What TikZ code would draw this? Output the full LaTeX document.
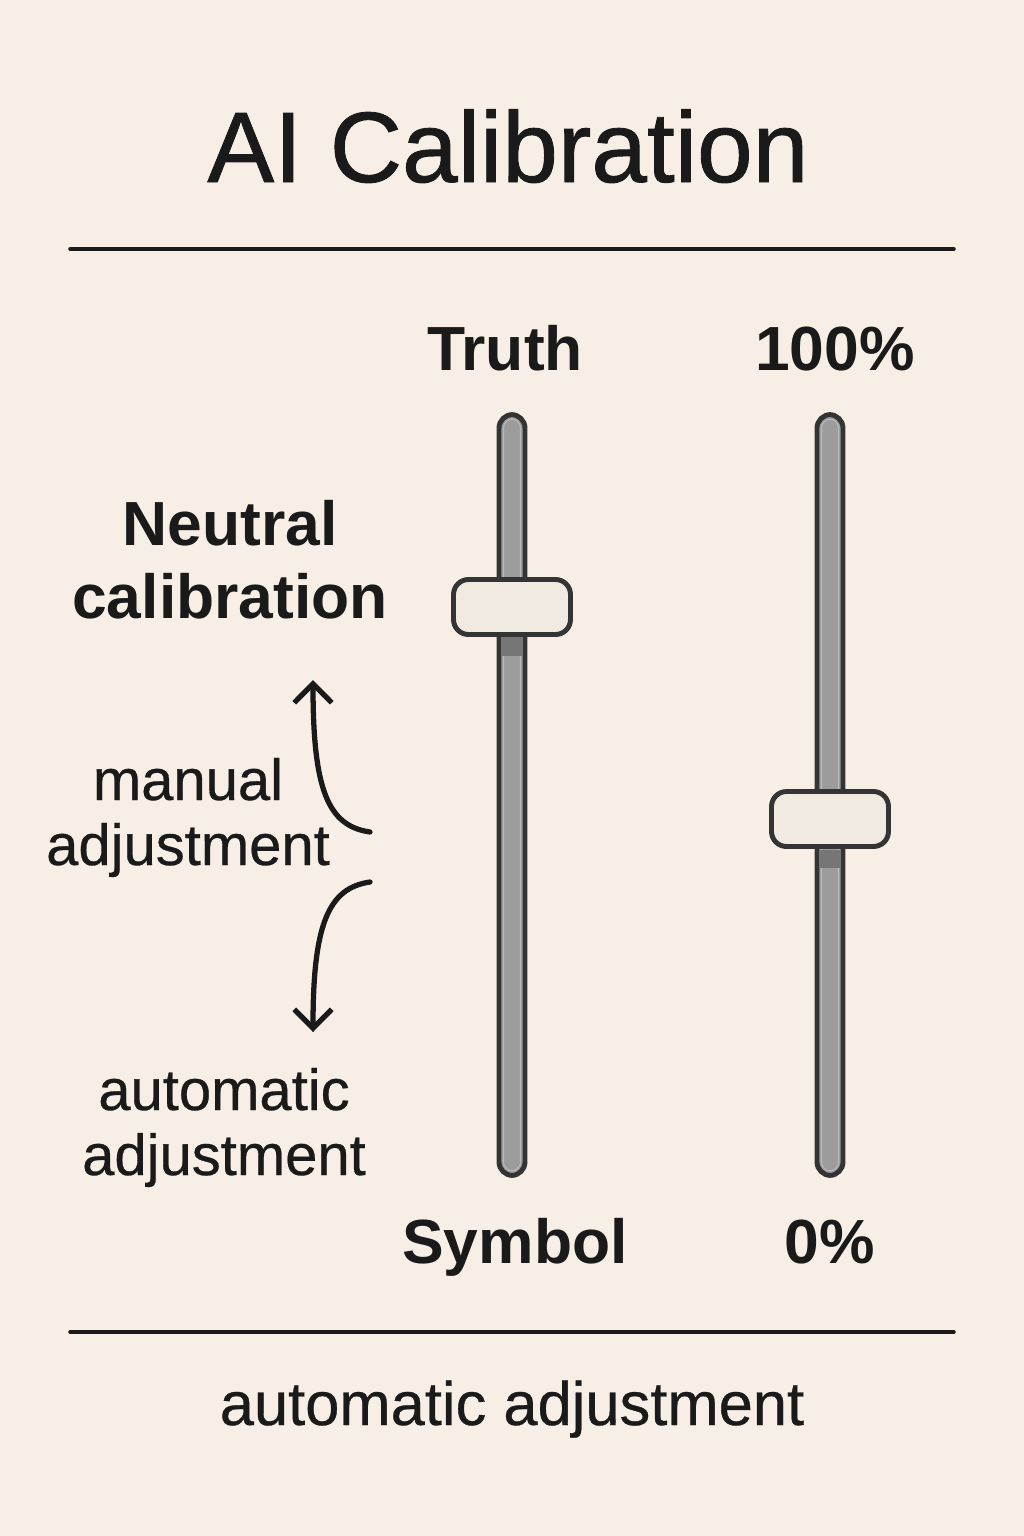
\documentclass[tikz,border=0pt]{standalone}
\usepackage{fontspec}
\setmainfont{Liberation Sans}
\newfontfamily\titlefont[FakeBold=0.9]{Liberation Sans}
\newfontfamily\mediumfont[FakeBold=0.5]{Liberation Sans}
\usetikzlibrary{arrows.meta}
\definecolor{paper}{RGB}{247,239,229}
\definecolor{ink}{RGB}{26,26,26}
\definecolor{rail}{RGB}{156,156,156}
\definecolor{railedge}{RGB}{52,52,52}
\definecolor{railshade}{RGB}{118,118,118}
\definecolor{knobfill}{RGB}{240,234,224}
\tikzset{
  track/.style={draw=railedge, fill=rail, line width=2.8pt, rounded corners=2.7mm,
    minimum width=5.2mm, minimum height=152.2mm, inner sep=0pt},
  shine/.style={draw=gray!55, line width=0.6pt, rounded corners=1.8mm,
    minimum width=3.4mm, minimum height=150.4mm, inner sep=0pt},
  knob/.style={draw=railedge, fill=knobfill, line width=2.8pt, rounded corners=3mm,
    minimum width=23.4mm, minimum height=11mm, inner sep=0pt},
  heading/.style={text=ink, anchor=base, font=\titlefont\fontsize{57}{68}\selectfont},
  bigword/.style={text=ink, anchor=base, font=\bfseries\fontsize{35.5}{41.5}\selectfont, align=center},
  smallword/.style={text=ink, anchor=base, font=\mediumfont\fontsize{33}{37}\selectfont, align=center},
  rule/.style={draw=ink, line width=2pt, line cap=round},
  adjarrow/.style={draw=ink, line width=3pt, line cap=round, -{Straight Barb[length=3.8mm, width=7.5mm]}}
}
\begin{document}
\begin{tikzpicture}[x=0.02cm, y=-0.02cm]
  \fill[paper] (0,0) rectangle (1024,1536);
  \useasboundingbox (0,0) rectangle (1024,1536);
  \node[heading] (title) at (508,182) {AI Calibration};
  \draw[rule] (70,249) -- (954,249);
  \draw[rule] (70,1332) -- (954,1332);
  \node[bigword] (truth) at (505,370) {Truth};
  \node[bigword] (full) at (835,370) {100\%};
  \node[bigword] (symbol) at (515,1263) {Symbol};
  \node[bigword] (empty) at (830,1263) {0\%};
  \node[track] (truthtrack) at (512,795) {};
  \node[shine] at (truthtrack) {};
  \fill[railshade] (502,637) rectangle (522,656);
  \node[knob] (truthknob) at (512,607) {};
  \node[track] (levtrack) at (830,795) {};
  \node[shine] at (levtrack) {};
  \fill[railshade] (820,850) rectangle (840,868);
  \node[knob] (levknob) at (830,819) {};
  \node[bigword] (neutral) at (230,618) {Neutral\\calibration};
  \node[smallword] (manual) at (188,865) {manual\\adjustment};
  \node[smallword] (auto) at (224,1175) {automatic\\adjustment};
  \node[smallword, font=\mediumfont\fontsize{35}{40}\selectfont] (footer) at (512,1425) {automatic adjustment};
  \coordinate (upfrom) at (370,832);
  \coordinate (upto) at (313,680);
  \coordinate (downfrom) at (370,882);
  \coordinate (downto) at (313,1032);
  \draw[adjarrow] (upfrom) .. controls (328,826) and (313,790) .. (upto);
  \draw[adjarrow] (downfrom) .. controls (328,888) and (313,925) .. (downto);
\end{tikzpicture}
\end{document}
